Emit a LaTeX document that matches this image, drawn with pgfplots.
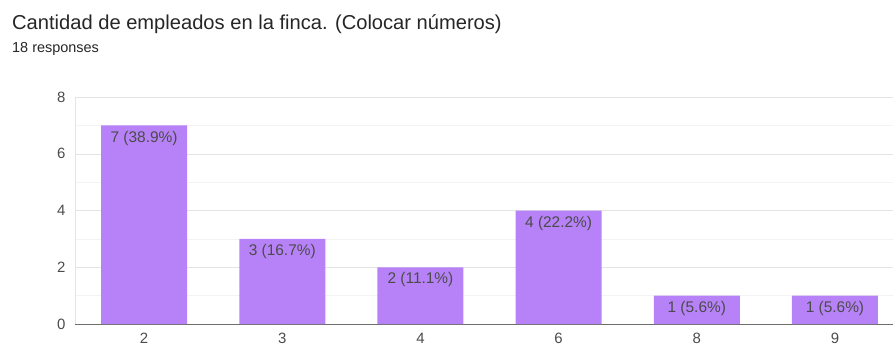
\documentclass[border=0pt]{standalone}
\usepackage{fontspec}
\setmainfont{Liberation Sans}
\usepackage{pgfplots}
\pgfplotsset{compat=1.18}
\definecolor{barpurple}{RGB}{183,130,247}
\definecolor{gridc}{RGB}{228,228,228}
\definecolor{minorc}{RGB}{243,243,243}
\definecolor{txt}{RGB}{75,75,75}
\definecolor{axc}{RGB}{110,110,110}
\begin{document}
\begin{tikzpicture}[x=1bp,y=1bp]
\path[use as bounding box] (0,0) rectangle (893,348);
\node[anchor=base west, font=\fontsize{20.2}{23}\selectfont, text=black!85, inner sep=0] at (12,319) {Cantidad de empleados en la finca. (Colocar números)};
\node[anchor=base west, font=\fontsize{14.5}{17}\selectfont, text=black!85, inner sep=0] at (12,296) {18 responses};
\begin{axis}[
  at={(75bp,24bp)}, anchor=south west, scale only axis,
  width=818bp, height=227bp,
  xmin=-0.5, xmax=5.42, ymin=0, ymax=8,
  xtick={0,...,5}, xticklabels={2,3,4,6,8,9},
  ytick={0,2,4,6,8}, minor ytick={1,3,5,7},
  ymajorgrids, yminorgrids,
  major grid style={draw=gridc}, minor grid style={draw=minorc},
  axis x line=bottom, axis y line=left,
  axis line style={-},
  x axis line style={draw=axc},
  y axis line style={draw=gridc},
  major tick length=0pt, minor tick length=0pt,
  tick label style={font=\fontsize{15}{17}\selectfont, text=txt},
  /pgf/number format/assume math mode=true,
  xticklabel style={yshift=-6bp},
  yticklabel style={xshift=-6bp},
  clip=false,
]
\addplot[ybar, fill=barpurple, draw=none, bar width=86bp,
  point meta=explicit symbolic,
  nodes near coords,
  every node near coord/.append style={anchor=north, yshift=-2bp, font=\fontsize{15.5}{17}\selectfont, text=txt},
] coordinates {
  (0,7) [7 (38.9\%)]
  (1,3) [3 (16.7\%)]
  (2,2) [2 (11.1\%)]
  (3,4) [4 (22.2\%)]
  (4,1) [1 (5.6\%)]
  (5,1) [1 (5.6\%)]
};
\end{axis}
\end{tikzpicture}
\end{document}
